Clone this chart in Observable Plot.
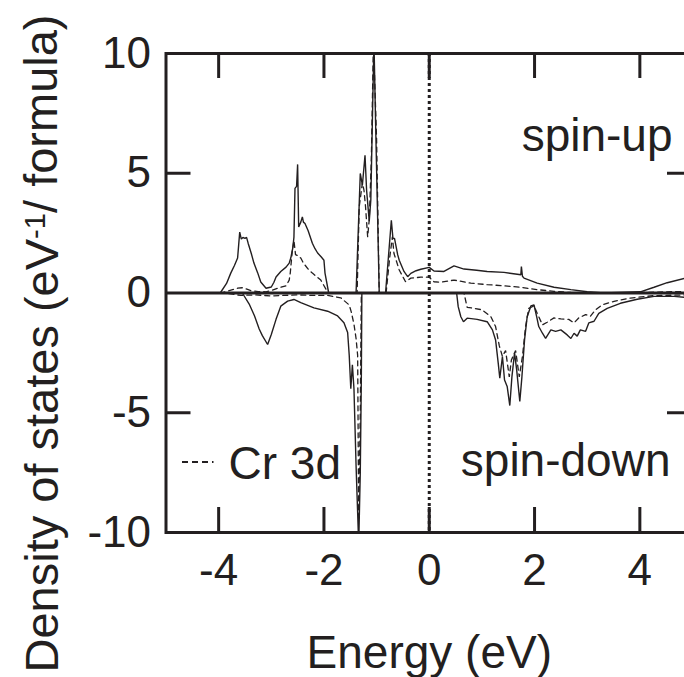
<!DOCTYPE html>
<html><head><meta charset="utf-8">
<script src="https://cdn.jsdelivr.net/npm/d3@7"></script>
<script src="https://cdn.jsdelivr.net/npm/@observablehq/plot@0.6"></script>
<style>
html,body{margin:0;padding:0;background:#fff;overflow:hidden;}
#chart{width:684px;height:677px;overflow:hidden;}
#chart svg{max-width:none !important;}
</style></head><body><div id="chart"></div>
<script>
// Tick values and labels
const xTicks = [-4, -2, 0, 2, 4];
const yTicks = [-10, -5, 0, 5, 10];
const innerYTicks = [-5, 5];
const xDomain = [-5, 5];
const yDomain = [-10, 10];
const xLabel = "Energy (eV)";
const yLabelMain = "Density of states (eV";
const yLabelSup = "-1";
const yLabelEnd = "/ formula)";
const upLabel = "spin-up";
const downLabel = "spin-down";
const legendLabel = "Cr 3d";

// Spin-up total DOS [energy, DOS]
const upTotal = [[-5,0],[-3.97,0],[-3.85,0.4],[-3.77,0.83],[-3.7,1.15],[-3.64,1.46],[-3.62,2.0],[-3.6,2.54],[-3.57,2.25],[-3.54,2.32],[-3.5,2.28],[-3.47,2.32],[-3.44,2.08],[-3.38,1.65],[-3.33,1.25],[-3.26,0.85],[-3.2,0.46],[-3.1,0.2],[-3.0,0.25],[-2.95,0.45],[-2.91,0.67],[-2.82,0.9],[-2.72,1.08],[-2.66,1.25],[-2.63,1.46],[-2.59,1.9],[-2.57,2.33],[-2.55,4.37],[-2.52,4.45],[-2.5,5.37],[-2.48,2.76],[-2.44,2.96],[-2.41,3.18],[-2.39,2.96],[-2.36,2.9],[-2.3,2.6],[-2.22,2.08],[-2.17,1.85],[-2.12,1.67],[-2.05,1.5],[-2.0,1.37],[-1.98,0.83],[-1.91,0],[-1.39,0],[-1.31,4.99],[-1.27,4.5],[-1.22,5.75],[-1.19,4.29],[-1.14,3.0],[-1.11,3.87],[-1.08,7.2],[-1.05,10.5],[-1.02,7.2],[-0.95,0],[-0.83,0],[-0.76,1.93],[-0.72,3.04],[-0.69,2.28],[-0.66,2.28],[-0.6,1.6],[-0.57,1.37],[-0.48,0.9],[-0.41,0.68],[-0.35,0.82],[-0.25,0.93],[-0.16,0.99],[0.0,1.07],[0.09,0.92],[0.28,0.9],[0.47,1.13],[0.66,1.0],[0.9,0.95],[1.1,0.9],[1.42,0.86],[1.74,0.76],[1.75,1.1],[1.77,0.7],[1.8,0.62],[2.05,0.41],[2.37,0.24],[2.69,0.14],[3.0,0.05],[3.32,0],[4.01,0.05],[4.27,0.24],[4.52,0.43],[4.85,0.61]];

// Spin-up Cr 3d partial DOS
const upCr = [[-5,0],[-3.95,0],[-3.8,0.1],[-3.64,0.2],[-3.55,0.22],[-3.45,0.15],[-3.39,0.1],[-3.25,0.06],[-3.1,0.05],[-2.98,0.12],[-2.88,0.2],[-2.72,0.3],[-2.66,0.54],[-2.64,0.83],[-2.6,1.79],[-2.57,2.2],[-2.54,1.6],[-2.49,1.55],[-2.44,1.46],[-2.39,1.25],[-2.3,1.0],[-2.22,0.83],[-2.06,0.54],[-1.92,0],[-1.37,0],[-1.33,3.6],[-1.27,4.6],[-1.24,4.3],[-1.21,3.6],[-1.17,2.35],[-1.14,3.05],[-1.1,5.6],[-1.06,10.5],[-1.0,6.4],[-0.95,0],[-0.82,0],[-0.75,1.5],[-0.7,2.35],[-0.67,1.65],[-0.57,0.96],[-0.45,0.47],[-0.35,0.62],[-0.16,0.66],[0.0,0.66],[0.09,0.47],[0.22,0.45],[0.47,0.54],[0.79,0.41],[1.1,0.35],[1.42,0.3],[1.74,0.24],[2.05,0.14],[2.37,0.07],[2.69,0.02],[3.5,0],[4.0,0.02],[4.5,0.05],[4.85,0.06]];

// Spin-down total DOS
const downTotal = [[-5,0],[-3.55,0],[-3.42,-0.46],[-3.32,-0.95],[-3.23,-1.5],[-3.17,-1.78],[-3.07,-2.15],[-3.0,-1.73],[-2.91,-1.1],[-2.82,-0.55],[-2.69,-0.34],[-2.57,-0.27],[-2.44,-0.4],[-2.19,-0.62],[-1.93,-0.76],[-1.74,-0.96],[-1.62,-1.24],[-1.55,-1.65],[-1.52,-2.6],[-1.49,-4.0],[-1.46,-3.0],[-1.43,-4.0],[-1.39,-7.2],[-1.34,-10.5],[-1.31,-7.5],[-1.29,-3.6],[-1.28,0],[0.52,0],[0.55,-0.57],[0.6,-0.99],[0.65,-1.2],[0.72,-1.05],[0.91,-1.1],[1.1,-1.2],[1.2,-1.54],[1.26,-1.96],[1.31,-2.93],[1.34,-3.56],[1.39,-2.65],[1.43,-3.63],[1.48,-3.9],[1.53,-4.7],[1.57,-3.5],[1.62,-2.5],[1.66,-3.2],[1.72,-4.53],[1.76,-3.5],[1.81,-1.96],[1.86,-0.99],[1.93,-0.54],[1.99,-0.5],[2.04,-0.99],[2.08,-1.4],[2.15,-1.68],[2.21,-1.89],[2.31,-1.54],[2.4,-1.6],[2.5,-1.54],[2.62,-1.75],[2.69,-1.9],[2.75,-1.68],[2.81,-1.8],[2.87,-1.54],[2.97,-1.6],[3.03,-1.25],[3.13,-1.18],[3.22,-0.85],[3.38,-0.64],[3.63,-0.43],[3.95,-0.26],[4.27,-0.14],[4.65,-0.14],[4.85,-0.18]];

// Spin-down Cr 3d partial DOS
const downCr = [[-5,0],[-3.9,0],[-3.58,-0.1],[-3.3,-0.08],[-3.0,-0.12],[-2.5,-0.08],[-2.2,-0.1],[-1.93,-0.1],[-1.68,-0.2],[-1.52,-0.5],[-1.48,-0.8],[-1.43,-1.3],[-1.39,-1.9],[-1.36,-2.6],[-1.34,-9.5],[-1.31,-5],[-1.29,0],[0.66,0],[0.72,-0.6],[0.85,-0.64],[1.0,-0.7],[1.17,-0.99],[1.26,-1.4],[1.33,-2.2],[1.39,-2.65],[1.45,-2.4],[1.52,-3.5],[1.56,-2.8],[1.64,-2.4],[1.71,-3.5],[1.77,-2.65],[1.83,-1.4],[1.89,-0.64],[1.99,-0.54],[2.05,-0.85],[2.15,-1.33],[2.24,-1.22],[2.37,-1.04],[2.5,-1.08],[2.65,-1.1],[2.75,-1.25],[2.84,-1.04],[2.97,-0.9],[3.06,-0.97],[3.16,-0.7],[3.29,-0.49],[3.51,-0.35],[3.82,-0.21],[4.27,-0.11],[4.85,-0.08]];

const W = 692, H = 677;
const mL = 165.5, mT = 53, mB = 145, mR = 0;
const plotW = W - mL - mR, plotH = H - mT - mB;
const tickLen = 25;
// tick length expressed in data units through the scale extents
const tickY = tickLen * (yDomain[1] - yDomain[0]) / plotH;
const tickX = tickLen * (xDomain[1] - xDomain[0]) / plotW;
const ink = "#231f20";
const font = "'Liberation Sans', Arial, Helvetica, sans-serif";

const lineOpts = {x: d => d[0], y: d => d[1], stroke: ink, strokeWidth: 1.4, clip: true, strokeLinejoin: "miter"};
const dashOpts = {...lineOpts, strokeWidth: 1.3, strokeDasharray: "5,4"};
const tickOpts = {stroke: ink, strokeWidth: 3};

const plot = Plot.plot({
  width: W, height: H,
  marginLeft: mL, marginRight: mR, marginTop: mT, marginBottom: mB,
  x: {domain: xDomain},
  y: {domain: yDomain},
  style: {fontFamily: font, color: ink, background: "white", maxWidth: "none"},
  marks: [
    Plot.ruleX([0], {stroke: ink, strokeWidth: 3, strokeDasharray: "3,3"}),
    Plot.line(upCr, dashOpts),
    Plot.line(downCr, dashOpts),
    Plot.line(upTotal, lineOpts),
    Plot.line(downTotal, lineOpts),
    Plot.ruleY([0], {stroke: ink, strokeWidth: 3}),
    Plot.frame({stroke: ink, strokeWidth: 3}),
    Plot.ruleX(xTicks, {x: d => d, y1: yDomain[1], y2: yDomain[1] - tickY, ...tickOpts}),
    Plot.ruleX(xTicks, {x: d => d, y1: yDomain[0], y2: yDomain[0] + tickY, ...tickOpts}),
    Plot.ruleY(innerYTicks, {y: d => d, x1: xDomain[0], x2: xDomain[0] + tickX, ...tickOpts}),
    Plot.ruleY(innerYTicks, {y: d => d, x1: xDomain[1], x2: xDomain[1] - tickX, ...tickOpts}),
    Plot.axisX(xTicks, {anchor: "bottom", tickSize: 0, tickPadding: 21, fontSize: 44, label: null, tickFormat: d => String(d), fill: ink}),
    Plot.axisY(yTicks, {anchor: "left", tickSize: 0, tickPadding: 15, fontSize: 44, label: null, tickFormat: d => String(d), fill: ink}),
    Plot.text([xLabel], {frameAnchor: "bottom", lineAnchor: "bottom", dy: 135, fontSize: 46, fill: ink}),
    Plot.text([yLabelMain + yLabelSup + yLabelEnd], {frameAnchor: "left", rotate: -90, lineAnchor: "bottom", textAnchor: "middle", dx: -108.5, dy: 50.5, fontSize: 47, fill: ink}),
    Plot.text([upLabel], {frameAnchor: "top-right", textAnchor: "end", lineAnchor: "bottom", dx: -20, dy: 97, fontSize: 46, fill: ink}),
    Plot.text([downLabel], {frameAnchor: "bottom-right", textAnchor: "end", lineAnchor: "bottom", dx: -22, dy: -57, fontSize: 46, fill: ink}),
    Plot.text([legendLabel], {frameAnchor: "bottom-left", textAnchor: "start", lineAnchor: "bottom", dx: 62.5, dy: -54, fontSize: 46, fill: ink})
  ]
});
plot.style.maxWidth = "none";
document.getElementById("chart").appendChild(plot);

// Superscript in the y-axis label
const full = yLabelMain + yLabelSup + yLabelEnd;
d3.select(plot).selectAll("text").filter(function() { return this.textContent === full; }).each(function() {
  const t = d3.select(this);
  t.text(null);
  t.append("tspan").text(yLabelMain);
  t.append("tspan").attr("dy", "-0.42em").attr("font-size", "0.62em").text(yLabelSup);
  t.append("tspan").attr("dy", "0.26em").text(yLabelEnd);
});

// Legend swatch for Cr 3d (dashed)
d3.select(plot).append("line")
  .attr("x1", mL + 16.5).attr("x2", mL + 48)
  .attr("y1", H - mB - 70).attr("y2", H - mB - 70)
  .attr("stroke", ink).attr("stroke-width", 1.8).attr("stroke-dasharray", "6,4");
</script></body></html>
